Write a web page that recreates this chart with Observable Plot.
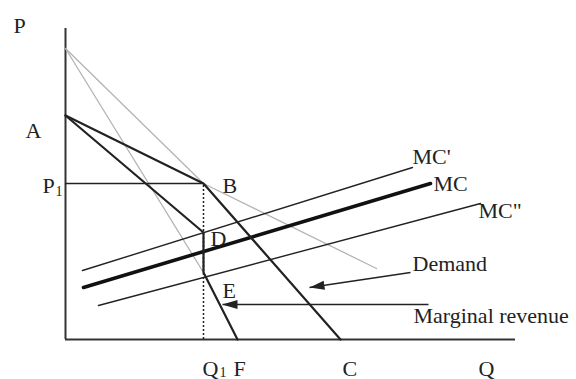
<!DOCTYPE html>
<html>
<head>
<meta charset="utf-8">
<script src="https://cdn.jsdelivr.net/npm/d3@7"></script>
<script src="https://cdn.jsdelivr.net/npm/@observablehq/plot@0.6"></script>
<style>
  html, body { margin: 0; padding: 0; background: #fff; }
</style>
</head>
<body>
<div id="chart"></div>
<script>
// Kinked demand model: quantity (q) against price (p), in arbitrary units.

// Kinked demand: elastic branch A–B above the kink, inelastic branch B–C below it
const kinkedDemand = [{q: 0, p: 224}, {q: 138, p: 156}, {q: 275, p: 0}];
// Inelastic curve extended above the kink
const inelasticUpper = [{q: 0, p: 291}, {q: 138, p: 156}];
// Elastic curve extended beyond the kink
const elasticLower = [{q: 138, p: 156}, {q: 311, p: 71}];
// Marginal revenue of the inelastic curve (upper part)
const inelasticMR = [{q: 0, p: 291}, {q: 138, p: 67}];
// Marginal revenue of the kinked demand, with its gap D–E at Q1
const marginalRevenue = [{q: 0, p: 224}, {q: 138, p: 107}, {q: 138, p: 67}, {q: 172, p: 0}];

// Marginal cost curves
const mcHigh = [{q: 17, p: 69}, {q: 347, p: 172}];
const mcBase = [{q: 18, p: 52}, {q: 365, p: 156}];
const mcLow = [{q: 33, p: 34}, {q: 415, p: 136}];

// Kink point B: price P1 at quantity Q1
const kink = {q: 138, p: 156};

// Pointers from the curve names to their curves
const pointers = [
  {q1: 345, p1: 67, q2: 244, p2: 52},   // Demand
  {q1: 363, p1: 35, q2: 157, p2: 35}    // Marginal revenue
];

// Labels and their anchor points
const labels = [
  {text: "P", q: -52, p: 307},
  {text: "A", q: -40, p: 202},
  {text: "P", q: -23, p: 147},
  {text: "B", q: 157, p: 147},
  {text: "D", q: 145, p: 94},
  {text: "E", q: 157, p: 42},
  {text: "MC'", q: 347, p: 176},
  {text: "MC", q: 368, p: 149},
  {text: "MC\"", q: 413, p: 122},
  {text: "Demand", q: 347, p: 69},
  {text: "Marginal revenue", q: 348, p: 17},
  {text: "Q", q: 137, p: -36},
  {text: "F", q: 168, p: -36},
  {text: "C", q: 277, p: -36},
  {text: "Q", q: 413, p: -36}
];
const subscripts = [
  {text: "1", q: -10, p: 144},
  {text: "1", q: 154, p: -37}
];

const ink = "#222";
const grey = "#b4b4b4";
const font = "Liberation Serif, Times New Roman, serif";

const chart = Plot.plot({
  width: 576,
  height: 379,
  marginTop: 28,
  marginRight: 61,
  marginBottom: 40,
  marginLeft: 65,
  x: {domain: [0, 450], axis: null},
  y: {domain: [0, 311], axis: null},
  style: {background: "#fff", fontFamily: font},
  marks: [
    // axes
    Plot.ruleX([0], {y1: 0, y2: 311, stroke: "#333", strokeWidth: 2}),
    Plot.ruleY([0], {x1: 0, x2: 450, stroke: "#333", strokeWidth: 2}),
    // grey extensions
    Plot.line(inelasticUpper, {x: "q", y: "p", stroke: grey, strokeWidth: 1.3}),
    Plot.line(elasticLower, {x: "q", y: "p", stroke: grey, strokeWidth: 1.3}),
    Plot.line(inelasticMR, {x: "q", y: "p", stroke: grey, strokeWidth: 1.3}),
    // P1 guide and dotted Q1 guide
    Plot.ruleY([kink], {y: "p", x1: 0, x2: "q", stroke: ink, strokeWidth: 1.5}),
    Plot.ruleX([kink], {x: "q", y1: 0, y2: "p", stroke: ink, strokeWidth: 1.5, strokeDasharray: "2,2"}),
    // marginal cost curves
    Plot.line(mcHigh, {x: "q", y: "p", stroke: ink, strokeWidth: 1.4}),
    Plot.line(mcBase, {x: "q", y: "p", stroke: "#111", strokeWidth: 3.6}),
    Plot.line(mcLow, {x: "q", y: "p", stroke: ink, strokeWidth: 1.4}),
    // demand and marginal revenue
    Plot.line(kinkedDemand, {x: "q", y: "p", stroke: ink, strokeWidth: 2.2}),
    Plot.line(marginalRevenue, {x: "q", y: "p", stroke: ink, strokeWidth: 2.2}),
    // pointers
    Plot.link(pointers, {x1: "q1", y1: "p1", x2: "q2", y2: "p2", stroke: ink, strokeWidth: 1.5}),
    // labels
    Plot.text(labels, {x: "q", y: "p", text: "text", textAnchor: "start", lineAnchor: "bottom",
      fontSize: 22, fontFamily: font, fill: ink}),
    Plot.text(subscripts, {x: "q", y: "p", text: "text", textAnchor: "start", lineAnchor: "bottom",
      fontSize: 14, fontFamily: font, fill: ink})
  ]
});

// Filled arrowheads at the ends of the pointers
const svg = d3.select(chart);
svg.append("defs").append("marker")
  .attr("id", "pointer-head")
  .attr("viewBox", "0 -5 15 10")
  .attr("refX", 15)
  .attr("refY", 0)
  .attr("markerWidth", 15)
  .attr("markerHeight", 10)
  .attr("markerUnits", "userSpaceOnUse")
  .attr("orient", "auto")
  .append("path")
  .attr("d", "M0,-4.5L15,0L0,4.5Z")
  .attr("fill", ink)
  .attr("stroke", "none");
svg.selectAll('g[aria-label="link"] path, g[aria-label="link"] line')
  .attr("marker-end", "url(#pointer-head)");

document.getElementById("chart").appendChild(chart);
</script>
</body>
</html>
